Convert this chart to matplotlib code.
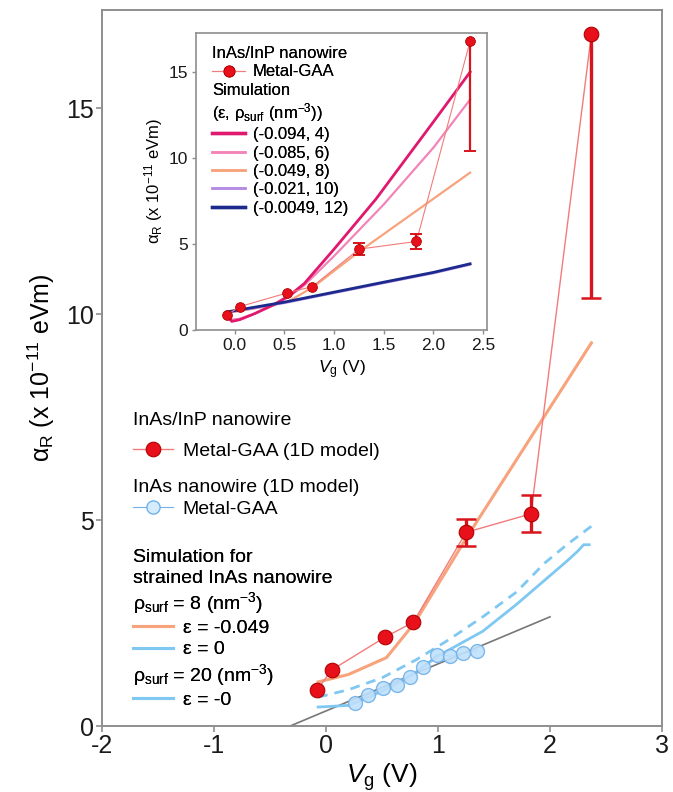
import matplotlib
matplotlib.use('Agg')
import matplotlib.pyplot as plt
from matplotlib.lines import Line2D
import numpy as np

plt.rcParams['font.family'] = ['Liberation Sans', 'DejaVu Sans']
plt.rcParams['mathtext.fontset'] = 'custom'
plt.rcParams['mathtext.rm'] = 'Liberation Sans'
plt.rcParams['mathtext.it'] = 'Liberation Sans:italic'
plt.rcParams['mathtext.bf'] = 'Liberation Sans:bold'
plt.rcParams['mathtext.sf'] = 'Liberation Sans'

# ---------------- data ----------------
# InAs/InP nanowire, Metal-GAA (1D model)
vg_inasinp = [-0.08, 0.05, 0.53, 0.78, 1.25, 1.83, 2.37]
alpha_inasinp = [0.87, 1.36, 2.16, 2.52, 4.70, 5.15, 16.8]
err_low = [0, 0, 0, 0, 0.33, 0.45, 6.4]
err_high = [0, 0, 0, 0, 0.33, 0.45, 0.0]

# InAs nanowire (1D model), Metal-GAA
vg_inas = [0.26, 0.375, 0.51, 0.63, 0.75, 0.87, 0.99, 1.11, 1.22, 1.35]
alpha_inas = [0.56, 0.76, 0.93, 1.00, 1.20, 1.44, 1.73, 1.70, 1.76, 1.83]

# Simulation, rho_surf = 8, eps = -0.049
vg_sim8_strain = [-0.07, 0.20, 0.54, 0.79, 1.25, 2.37]
alpha_sim8_strain = [1.07, 1.25, 1.66, 2.50, 4.55, 9.30]

# Simulation, rho_surf = 8, eps = 0 (dashed)
vg_sim8_eps0 = [-0.07, 0.20, 0.50, 0.80, 1.10, 1.40, 1.70, 1.95, 2.15, 2.37]
alpha_sim8_eps0 = [0.70, 0.88, 1.17, 1.60, 2.10, 2.65, 3.25, 3.95, 4.40, 4.85]

# Simulation, rho_surf = 20, eps = -0
vg_sim20 = [-0.07, 0.20, 0.40, 0.60, 0.80, 1.00, 1.20, 1.40, 1.70, 2.00, 2.15, 2.25, 2.30, 2.35]
alpha_sim20 = [0.46, 0.50, 0.72, 0.98, 1.30, 1.70, 2.00, 2.30, 2.95, 3.65, 4.00, 4.25, 4.40, 4.40]

# linear fit (gray)
vg_fit = [-0.32, 2.0]
alpha_fit = [0.0, 2.65]

# Inset simulations (eps, rho_surf)
vg_in_a = [-0.08, -0.03, 0.05, 0.20, 0.40, 0.55, 0.70, 1.00, 1.42, 2.00, 2.37]
alpha_in_a = [0.85, 0.50, 0.60, 0.95, 1.50, 2.00, 2.70, 4.70, 7.60, 12.1, 15.0]   # (-0.094, 4)
vg_in_b = [-0.08, -0.03, 0.05, 0.20, 0.40, 0.55, 0.70, 1.00, 1.50, 2.00, 2.37]
alpha_in_b = [0.90, 0.60, 0.65, 0.95, 1.45, 1.95, 2.60, 4.30, 7.30, 10.6, 13.4]   # (-0.085, 6)
vg_in_c = [-0.08, 0.20, 0.54, 0.79, 1.25, 2.37]
alpha_in_c = [1.00, 1.25, 1.66, 2.50, 4.55, 9.15]                                # (-0.049, 8)
vg_in_d = [-0.08, 0.50, 1.00, 1.50, 2.00, 2.37]
alpha_in_d = [1.00, 1.57, 2.15, 2.73, 3.30, 3.80]                                # (-0.021, 10)
vg_in_e = [-0.08, 0.50, 1.00, 1.50, 2.00, 2.37]
alpha_in_e = [1.05, 1.62, 2.20, 2.78, 3.35, 3.85]                                # (-0.0049, 12)

inset_labels = ['(-0.094, 4)', '(-0.085, 6)', '(-0.049, 8)', '(-0.021, 10)', '(-0.0049, 12)']

main_xticks = [-2, -1, 0, 1, 2, 3]
main_yticks = [0, 5, 10, 15]
inset_xticks = [0.0, 0.5, 1.0, 1.5, 2.0, 2.5]
inset_yticks = [0, 5, 10, 15]

# ---------------- colours ----------------
RED = '#e8101a'
RED_EDGE = '#b00000'
RED_LINE = '#f27b7b'
ERR = '#d8141c'
ORANGE = '#f7a37c'
LBLUE = '#7ec8f2'
CIRC_FACE = '#bfe0fa'
CIRC_EDGE = '#72b2ea'
GRAY = '#777777'
SPINE = '#8e8e8e'
PINK_D = '#e0186e'
PINK_L = '#f284b8'
PURPLE = '#b48be4'
NAVY = '#1b2a8c'

W, H = 673, 792
fig = plt.figure(figsize=(W / 100, H / 100), dpi=100)

def fx(px):
    return px / W

def fy(py):
    return 1 - py / H

x_arr = np.array(vg_inasinp)
y_arr = np.array(alpha_inasinp)
lo_arr = np.array(err_low)
hi_arr = np.array(err_high)
has_err = (lo_arr > 0) | (hi_arr > 0)
has_lo = lo_arr > 0
has_hi = hi_arr > 0


def draw_errors(axis, lw, cap_ms, cap_mew):
    axis.vlines(x_arr[has_err], (y_arr - lo_arr)[has_err], (y_arr + hi_arr)[has_err],
                color=ERR, lw=lw, zorder=6)
    axis.plot(x_arr[has_lo], (y_arr - lo_arr)[has_lo], ls='none', marker='_',
              ms=cap_ms, mew=cap_mew, color=ERR, zorder=6)
    axis.plot(x_arr[has_hi], (y_arr + hi_arr)[has_hi], ls='none', marker='_',
              ms=cap_ms, mew=cap_mew, color=ERR, zorder=6)


# ---------------- main axes ----------------
ax = fig.add_axes([fx(102), fy(726), fx(662) - fx(102), fy(10) - fy(726)])
ax.set_xlim(-2, 3)
ax.set_ylim(0, 17.38)

ax.plot(vg_fit, alpha_fit, color=GRAY, lw=1.2, zorder=2)
ax.plot(vg_sim20, alpha_sim20, color=LBLUE, lw=2.0, zorder=3)
ax.plot(vg_sim8_eps0, alpha_sim8_eps0, color=LBLUE, lw=2.0, ls=(0, (3.5, 2.5)), zorder=3)
ax.plot(vg_inas, alpha_inas, color=CIRC_EDGE, lw=0.8, marker='o', ms=10,
        mfc=CIRC_FACE, mec=CIRC_EDGE, mew=1.0, alpha=0.9, zorder=4)
ax.plot(vg_sim8_strain, alpha_sim8_strain, color=ORANGE, lw=2.2, zorder=5)
ax.plot(vg_inasinp, alpha_inasinp, color=RED_LINE, lw=1.0, zorder=6)
draw_errors(ax, 2.4, 15, 1.8)
ax.plot(vg_inasinp, alpha_inasinp, ls='none', marker='o', ms=10.5,
        mfc=RED, mec=RED_EDGE, mew=0.8, zorder=7)

ax.set_xticks(main_xticks)
ax.set_xticklabels([str(t) for t in main_xticks])
ax.set_yticks(main_yticks)
ax.set_yticklabels([str(t) for t in main_yticks])
ax.tick_params(direction='out', length=4, width=1.2, color=SPINE, labelsize=18,
               labelcolor='#1a1a1a', pad=2)
for s in ax.spines.values():
    s.set_color(SPINE)
    s.set_linewidth(1.4)
ax.set_xlabel(r'$V_{\rm g}$ (V)', fontsize=19, labelpad=2)
ax.set_ylabel(r'α$_{\rm R}$ (x 10$^{-11}$ eVm)', fontsize=18, labelpad=6)


def header_legend(axis, handles, labels, headers, x, y, fontsize, hl, htp, ls):
    leg = axis.legend(handles, labels, loc='upper left', bbox_to_anchor=(x, y),
                      bbox_transform=fig.transFigure, frameon=False, borderpad=0,
                      borderaxespad=0, fontsize=fontsize, handlelength=hl,
                      handletextpad=htp, labelspacing=ls, numpoints=1)
    rows = [r for col in leg._legend_handle_box.get_children() for r in col.get_children()]
    for r, is_h in zip(rows, headers):
        if is_h:
            r.get_children()[0].set_width(0)
            r.sep = 0
    axis.add_artist(leg)
    return leg

blank = Line2D([], [], ls='none')
red_h = Line2D([], [], color=RED_LINE, lw=1.0, marker='o', ms=10.5, mfc=RED, mec=RED_EDGE, mew=0.8)
blue_h = Line2D([], [], color=CIRC_EDGE, lw=0.8, marker='o', ms=9.5, mfc='#d6ebfc', mec=CIRC_EDGE, mew=1.0)
or_h = Line2D([], [], color=ORANGE, lw=2.2)
lb_h = Line2D([], [], color=LBLUE, lw=2.2)

header_legend(ax, [blank, red_h], ['InAs/InP nanowire', 'Metal-GAA (1D model)'],
              [True, False], fx(133), fy(411), 14, 2.05, 0.5, 0.72)
header_legend(ax, [blank, blue_h], ['InAs nanowire (1D model)', 'Metal-GAA'],
              [True, False], fx(133), fy(478), 14, 2.05, 0.5, 0.22)
header_legend(ax, [blank, blank, blank, or_h, lb_h, blank, lb_h],
              ['Simulation for', 'strained InAs nanowire',
               r'ρ$_{\rm surf}$ = 8 (nm$^{-3}$)', 'ε = -0.049', 'ε = 0',
               r'ρ$_{\rm surf}$ = 20 (nm$^{-3}$)', 'ε = -0'],
              [True, True, True, False, False, True, False],
              fx(133), fy(548), 14, 2.05, 0.5, 0.18)

# ---------------- inset ----------------
ins = fig.add_axes([fx(196), fy(330), fx(487) - fx(196), fy(33) - fy(330)])
ins.set_xlim(-0.39, 2.54)
ins.set_ylim(0, 17.27)

ins.plot(vg_in_a, alpha_in_a, color=PINK_D, lw=2.0, zorder=4)
ins.plot(vg_in_b, alpha_in_b, color=PINK_L, lw=1.6, zorder=3)
ins.plot(vg_in_c, alpha_in_c, color=ORANGE, lw=1.6, zorder=3)
ins.plot(vg_in_d, alpha_in_d, color=PURPLE, lw=1.6, zorder=3)
ins.plot(vg_in_e, alpha_in_e, color=NAVY, lw=2.0, zorder=4)
ins.plot(vg_inasinp, alpha_inasinp, color=RED_LINE, lw=0.8, zorder=5)
draw_errors(ins, 1.6, 9, 1.4)
ins.plot(vg_inasinp, alpha_inasinp, ls='none', marker='o', ms=7,
         mfc=RED, mec=RED_EDGE, mew=0.6, zorder=7)

ins.set_xticks(inset_xticks)
ins.set_xticklabels(['%.1f' % t for t in inset_xticks])
ins.set_yticks(inset_yticks)
ins.set_yticklabels([str(t) for t in inset_yticks])
ins.tick_params(direction='out', length=3, width=1.0, color=SPINE, labelsize=12.5,
                labelcolor='#1a1a1a', pad=3)
for s in ins.spines.values():
    s.set_color(SPINE)
    s.set_linewidth(1.2)
ins.set_xlabel(r'$V_{\rm g}$ (V)', fontsize=12.5, labelpad=4)
ins.set_ylabel(r'α$_{\rm R}$ (x 10$^{-11}$ eVm)', fontsize=12, labelpad=2)

red_hi = Line2D([], [], color=RED_LINE, lw=0.8, marker='o', ms=8, mfc=RED, mec=RED_EDGE, mew=0.6)
header_legend(ins, [blank, red_hi, blank, blank,
                    Line2D([], [], color=PINK_D, lw=2.4), Line2D([], [], color=PINK_L, lw=1.8),
                    Line2D([], [], color=ORANGE, lw=1.8), Line2D([], [], color=PURPLE, lw=1.8),
                    Line2D([], [], color=NAVY, lw=2.4)],
              ['InAs/InP nanowire', 'Metal-GAA', 'Simulation',
               r'(ε, ρ$_{\rm surf}$ (nm$^{-3}$))'] + inset_labels,
              [True, False, True, True, False, False, False, False, False],
              fx(212), fy(46), 12, 2.0, 0.45, 0.2)

fig.savefig('out.png', dpi=100, facecolor='white')
